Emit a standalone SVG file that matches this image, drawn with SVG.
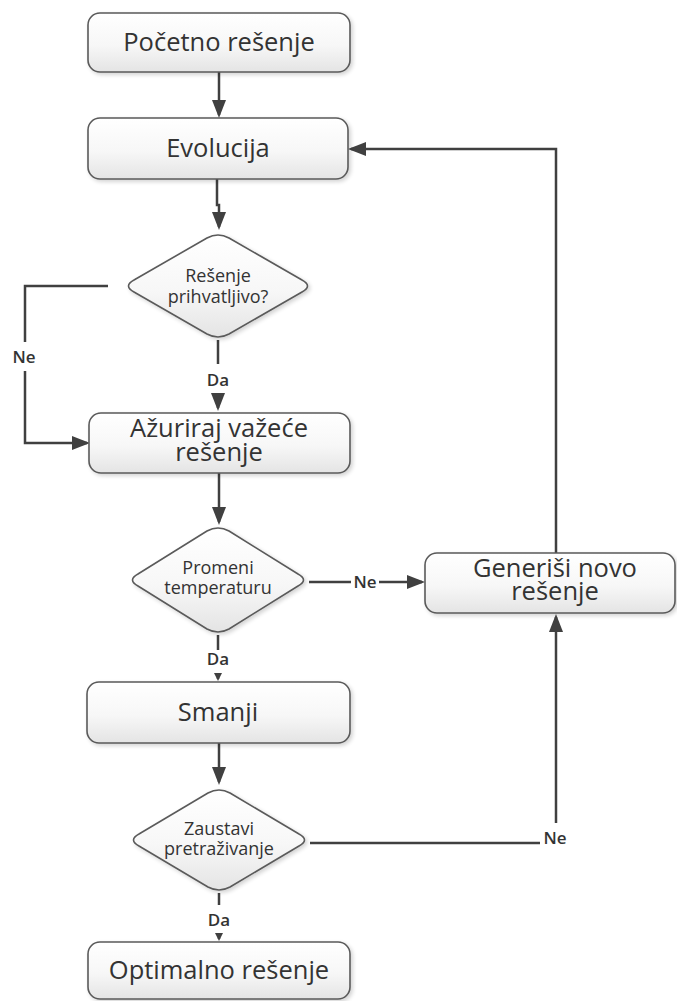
<svg xmlns="http://www.w3.org/2000/svg" width="677" height="1001" viewBox="0 0 677 1001">
  <defs>
    <linearGradient id="fillGrad" x1="0" y1="0" x2="0" y2="1">
      <stop offset="0" stop-color="#ffffff"/>
      <stop offset="0.55" stop-color="#f7f7f7"/>
      <stop offset="1" stop-color="#e4e4e4"/>
    </linearGradient>
    <filter id="shadow" x="-10%" y="-10%" width="125%" height="130%">
      <feGaussianBlur in="SourceAlpha" stdDeviation="2"/>
      <feOffset dx="2" dy="2" result="b"/>
      <feComponentTransfer><feFuncA type="linear" slope="0.18"/></feComponentTransfer>
      <feMerge><feMergeNode/><feMergeNode in="SourceGraphic"/></feMerge>
    </filter>
    <marker id="ah" viewBox="0 0 18 14" refX="15" refY="7" markerWidth="18" markerHeight="14" markerUnits="userSpaceOnUse" orient="auto">
      <path d="M0 0 L18 7 L0 14 Z" fill="#404040"/>
    </marker>
    <marker id="ahs" viewBox="0 0 8 8" refX="6" refY="4" markerWidth="8" markerHeight="8" markerUnits="userSpaceOnUse" orient="auto">
      <path d="M0 0 L8 4 L0 8 Z" fill="#404040"/>
    </marker>
  </defs>
  <style>
    .shape { fill: url(#fillGrad); stroke: #5a5a5a; stroke-width: 1.6; filter: url(#shadow); }
    .box-text { font-family: "Open Sans", "Noto Sans", "DejaVu Sans", sans-serif; font-size: 25.5px; fill: #333333; text-anchor: middle; }
    .dec-text { font-family: "Open Sans", "Noto Sans", "DejaVu Sans", sans-serif; font-size: 18px; fill: #333333; text-anchor: middle; }
    .lbl { font-family: "Open Sans", "Noto Sans", "DejaVu Sans", sans-serif; font-size: 17px; font-weight: 600; fill: #333333; text-anchor: middle; }
    .conn { fill: none; stroke: #404040; stroke-width: 2.5; }
  </style>

  <!-- connectors -->
  <g id="connectors">
    <path class="conn" d="M219 72 V115" marker-end="url(#ah)"/>
    <path class="conn" d="M217 179 V205 H219 V227" marker-end="url(#ah)"/>
    <path class="conn" d="M218 340 V364"/>
    <path class="conn" d="M218 393 V408" marker-end="url(#ah)"/>
    <text class="lbl" x="218" y="386">Da</text>
    <path class="conn" d="M108 286 H25 V342"/>
    <path class="conn" d="M25 371 V443 H87" marker-end="url(#ah)"/>
    <text class="lbl" x="24" y="363">Ne</text>
    <path class="conn" d="M219 473 V522" marker-end="url(#ah)"/>
    <path class="conn" d="M309 582 H351"/>
    <path class="conn" d="M379 582 H422" marker-end="url(#ah)"/>
    <text class="lbl" x="365" y="588">Ne</text>
    <path class="conn" d="M218 635 V650"/>
    <path class="conn" d="M218 673 V679" marker-end="url(#ahs)"/>
    <text class="lbl" x="218" y="665">Da</text>
    <path class="conn" d="M219 743 V782" marker-end="url(#ah)"/>
    <path class="conn" d="M310 843 H540"/>
    <path class="conn" d="M556 823 V617" marker-end="url(#ah)"/>
    <text class="lbl" x="555" y="844">Ne</text>
    <path class="conn" d="M556 553 V149 H351" marker-end="url(#ah)"/>
    <path class="conn" d="M219 893 V905"/>
    <path class="conn" d="M219 934 V939" marker-end="url(#ahs)"/>
    <text class="lbl" x="219" y="926">Da</text>
  </g>

  <!-- process boxes and decisions -->
  <g id="pocetno">
    <rect class="shape" x="88" y="13" width="262" height="59" rx="12"/>
    <text class="box-text" x="219" y="51">Početno rešenje</text>
  </g>
  <g id="evolucija">
    <rect class="shape" x="88" y="118" width="260" height="61" rx="12"/>
    <text class="box-text" x="218" y="157">Evolucija</text>
  </g>
  <g id="prihvatljivo">
    <path class="shape" d="M229 238 L302 280 Q313 286 302 292 L229 334 Q218 340 207 334 L134 292 Q123 286 134 280 L207 238 Q218 232 229 238 Z"/>
    <text class="dec-text" x="218" y="282">Rešenje<tspan x="218" dy="21">prihvatljivo?</tspan></text>
  </g>
  <g id="azuriraj">
    <rect class="shape" x="89" y="413" width="261" height="60" rx="12"/>
    <text class="box-text" x="219" y="437">Ažuriraj važeće<tspan x="219" dy="24">rešenje</tspan></text>
  </g>
  <g id="temperatura">
    <path class="shape" d="M229 531 L298 574 Q309 580 298 586 L229 629 Q218 635 207 629 L138 586 Q127 580 138 574 L207 531 Q218 525 229 531 Z"/>
    <text class="dec-text" x="218" y="574">Promeni<tspan x="218" dy="20">temperaturu</tspan></text>
  </g>
  <g id="generisi">
    <rect class="shape" x="425" y="553" width="250" height="60" rx="12"/>
    <text class="box-text" x="555" y="577">Generiši novo<tspan x="555" dy="23">rešenje</tspan></text>
  </g>
  <g id="smanji">
    <rect class="shape" x="87" y="682" width="263" height="61" rx="12"/>
    <text class="box-text" x="218" y="721">Smanji</text>
  </g>
  <g id="zaustavi">
    <path class="shape" d="M230 793 L299 834 Q310 840 299 846 L230 887 Q219 893 208 887 L139 846 Q128 840 139 834 L208 793 Q219 787 230 793 Z"/>
    <text class="dec-text" x="219" y="835">Zaustavi<tspan x="219" dy="20">pretraživanje</tspan></text>
  </g>
  <g id="optimalno">
    <rect class="shape" x="88" y="942" width="262" height="57" rx="12"/>
    <text class="box-text" x="219" y="979">Optimalno rešenje</text>
  </g>
</svg>
